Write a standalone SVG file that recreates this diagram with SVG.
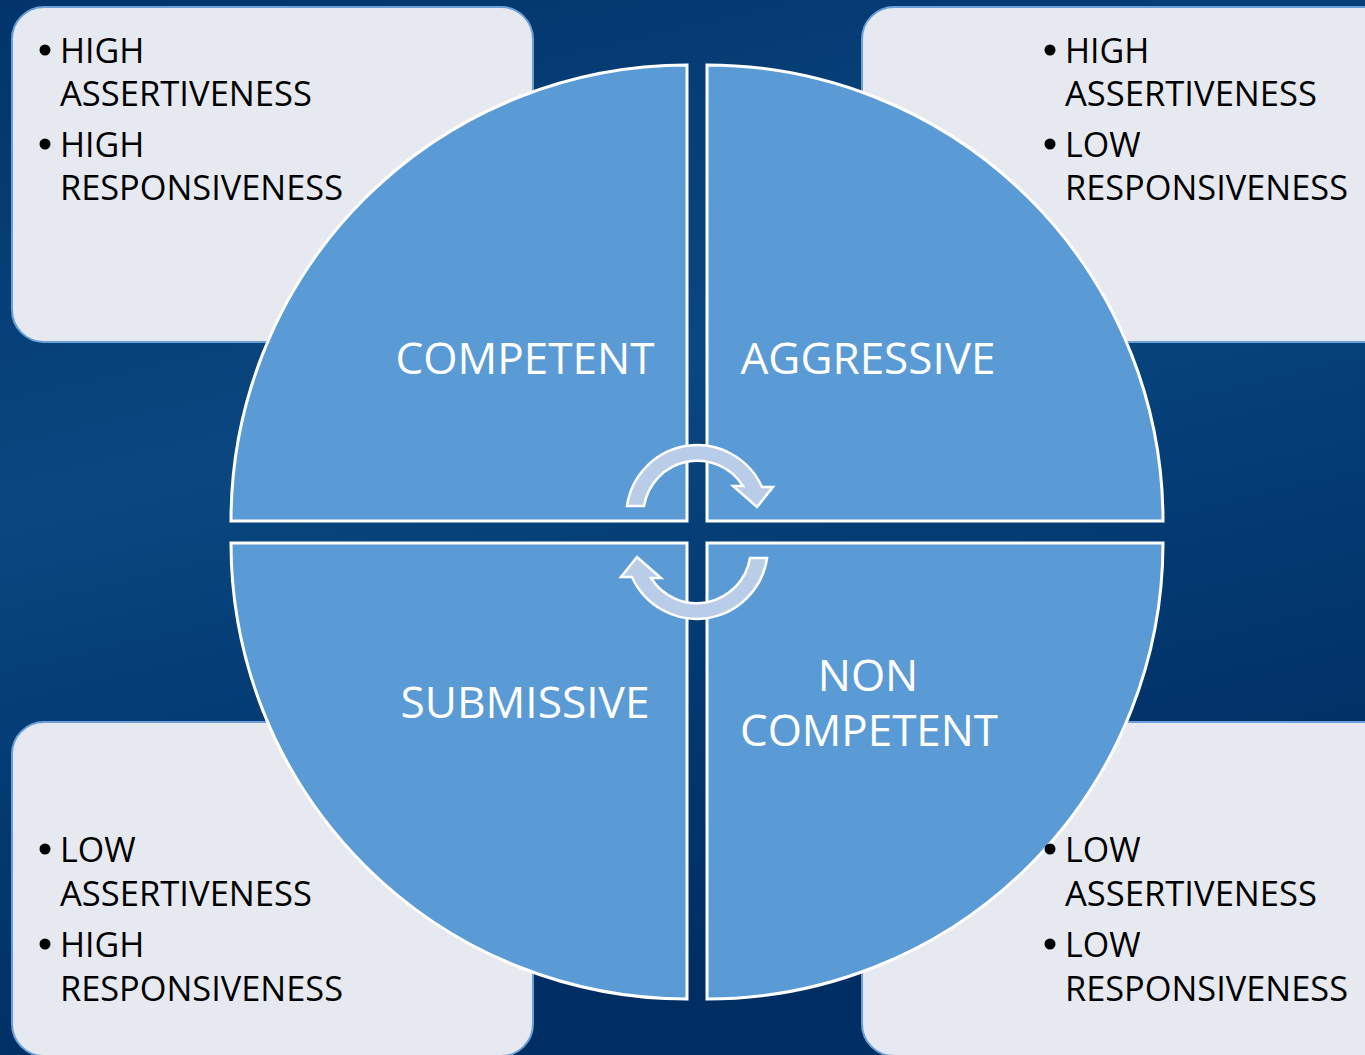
<svg xmlns="http://www.w3.org/2000/svg" width="1365" height="1055" viewBox="0 0 1365 1055">
  <defs>
    <linearGradient id="bg" x1="0" y1="0" x2="0.3" y2="1">
      <stop offset="0" stop-color="#02346b"/>
      <stop offset="0.45" stop-color="#0a4780"/>
      <stop offset="0.7" stop-color="#033a72"/>
      <stop offset="1" stop-color="#002d62"/>
    </linearGradient>
    <style>
      .box { fill: #e6e9ef; stroke: #6a9fd8; stroke-width: 2; }
      .quad { fill: #5b9bd5; stroke: #ffffff; stroke-width: 3; }
      .arrow { fill: #b9cde8; stroke: #ffffff; stroke-width: 2.5; stroke-linejoin: miter; }
      .bt { font-family: "Open Sans", "Liberation Sans", sans-serif; font-size: 34px; fill: #000000; }
      .lbl { font-family: "Open Sans", "Liberation Sans", sans-serif; font-size: 44px; fill: #ffffff; text-anchor: middle; }
      .dot { fill: #000000; }
    </style>
  </defs>

  <rect x="0" y="0" width="1365" height="1055" fill="url(#bg)"/>

  <g id="box-tl">
    <rect class="box" x="12" y="7" width="521" height="335" rx="32"/>
    <circle class="dot" cx="45" cy="50" r="5.5"/>
    <text class="bt" x="60" y="63">HIGH</text>
    <text class="bt" x="60" y="106" textLength="252" lengthAdjust="spacingAndGlyphs">ASSERTIVENESS</text>
    <circle class="dot" cx="45" cy="144" r="5.5"/>
    <text class="bt" x="60" y="157">HIGH</text>
    <text class="bt" x="60" y="200" textLength="283" lengthAdjust="spacingAndGlyphs">RESPONSIVENESS</text>
  </g>

  <g id="box-tr">
    <rect class="box" x="862" y="7" width="540" height="335" rx="32"/>
    <circle class="dot" cx="1050" cy="50" r="5.5"/>
    <text class="bt" x="1065" y="63">HIGH</text>
    <text class="bt" x="1065" y="106" textLength="252" lengthAdjust="spacingAndGlyphs">ASSERTIVENESS</text>
    <circle class="dot" cx="1050" cy="144" r="5.5"/>
    <text class="bt" x="1065" y="157">LOW</text>
    <text class="bt" x="1065" y="200" textLength="283" lengthAdjust="spacingAndGlyphs">RESPONSIVENESS</text>
  </g>

  <g id="box-bl">
    <rect class="box" x="12" y="722" width="521" height="334" rx="32"/>
    <circle class="dot" cx="45" cy="849" r="5.5"/>
    <text class="bt" x="60" y="862">LOW</text>
    <text class="bt" x="60" y="906" textLength="252" lengthAdjust="spacingAndGlyphs">ASSERTIVENESS</text>
    <circle class="dot" cx="45" cy="944" r="5.5"/>
    <text class="bt" x="60" y="957">HIGH</text>
    <text class="bt" x="60" y="1001" textLength="283" lengthAdjust="spacingAndGlyphs">RESPONSIVENESS</text>
  </g>

  <g id="box-br">
    <rect class="box" x="862" y="722" width="540" height="334" rx="32"/>
  </g>

  <g id="q-competent">
    <path class="quad" d="M687,521 L231,521 A456,456 0 0 1 687,65 Z"/>
    <text class="lbl" x="525" y="374" textLength="259" lengthAdjust="spacingAndGlyphs">COMPETENT</text>
  </g>
  <g id="q-aggressive">
    <path class="quad" d="M707,521 L707,65 A456,456 0 0 1 1163,521 Z"/>
    <text class="lbl" x="868" y="374" textLength="255" lengthAdjust="spacingAndGlyphs">AGGRESSIVE</text>
  </g>
  <g id="q-submissive">
    <path class="quad" d="M687,543 L687,999 A456,456 0 0 1 231,543 Z"/>
    <text class="lbl" x="525" y="718" textLength="249" lengthAdjust="spacingAndGlyphs">SUBMISSIVE</text>
  </g>
  <g id="q-noncompetent">
    <path class="quad" d="M707,543 L1163,543 A456,456 0 0 1 707,999 Z"/>
    <text class="lbl" x="868" y="691">NON</text>
    <text class="lbl" x="869" y="746" textLength="258" lengthAdjust="spacingAndGlyphs">COMPETENT</text>
  </g>

  <g id="box-br-text">
    <circle class="dot" cx="1050" cy="849" r="5.5"/>
    <text class="bt" x="1065" y="862">LOW</text>
    <text class="bt" x="1065" y="906" textLength="252" lengthAdjust="spacingAndGlyphs">ASSERTIVENESS</text>
    <circle class="dot" cx="1050" cy="944" r="5.5"/>
    <text class="bt" x="1065" y="957">LOW</text>
    <text class="bt" x="1065" y="1001" textLength="283" lengthAdjust="spacingAndGlyphs">RESPONSIVENESS</text>
  </g>

  <g id="connectors">
    <path id="arrow-top" class="arrow" d="M627,506 A71,71 0 0 1 762,487 L773,487 L757,507 L733,486 L743,486 A54,54 0 0 0 644,506 Z"/>
    <path id="arrow-bottom" class="arrow" transform="rotate(180 697 532)" d="M627,506 A71,71 0 0 1 762,487 L773,487 L757,507 L733,486 L743,486 A54,54 0 0 0 644,506 Z"/>
  </g>
</svg>
